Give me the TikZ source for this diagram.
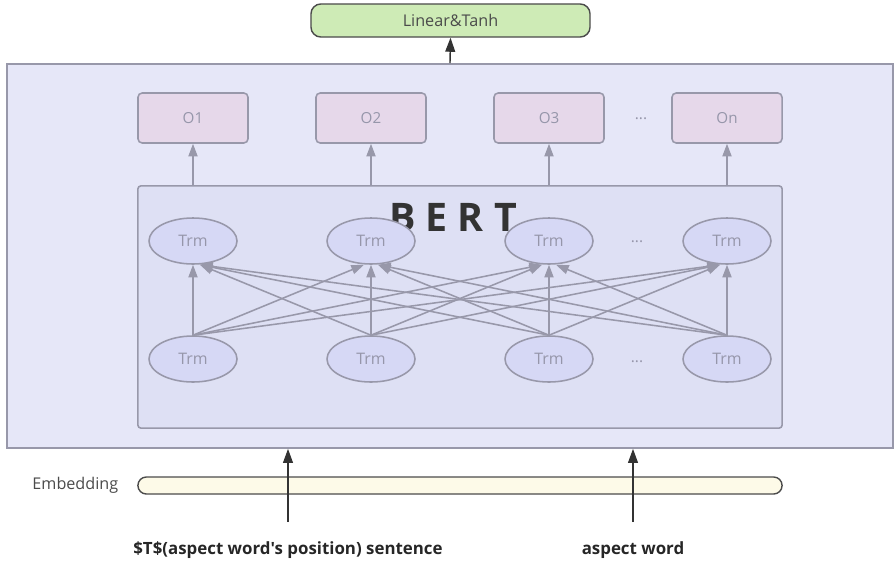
\documentclass[tikz,border=0pt]{standalone}
\usepackage{fontspec}
\setmainfont{Open Sans}
\newfontfamily\capfont{Open Sans}[Ligatures=TeXOff]
\usepackage{xcolor}
\usepackage{tikz}
\usetikzlibrary{arrows.meta,positioning,calc,shapes.geometric}
\definecolor{edgegray}{RGB}{152,152,170}
\definecolor{textgray}{RGB}{150,150,170}
\definecolor{panelbg}{RGB}{230,231,248}
\definecolor{bertbg}{RGB}{222,224,244}
\definecolor{outbg}{RGB}{230,216,234}
\definecolor{trmbg}{RGB}{214,216,245}
\definecolor{headbg}{RGB}{206,235,182}
\definecolor{embbg}{RGB}{253,250,232}
\definecolor{darkline}{RGB}{75,75,75}

\begin{document}
\begin{tikzpicture}[
    x=0.025cm, y=-0.025cm,
    panel/.style={draw=edgegray, fill=panelbg, line width=1.1pt, minimum width=22.15cm, minimum height=9.6cm},
    bertbox/.style={draw=edgegray, fill=bertbg, line width=1.1pt, rounded corners=2pt, minimum width=16.1cm, minimum height=6.05cm},
    outbox/.style={draw=edgegray, fill=outbg, line width=1.1pt, rounded corners=3pt, minimum width=2.75cm, minimum height=1.25cm, text=textgray, font=\fontsize{10.8}{12}\selectfont},
    trm/.style={ellipse, draw=edgegray, fill=trmbg, line width=1.1pt, minimum width=2.2cm, minimum height=1.15cm, text=textgray, font=\fontsize{11.3}{12}\selectfont},
    headbox/.style={draw=darkline, fill=headbg, line width=1pt, rounded corners=7pt, minimum width=6.975cm, minimum height=0.825cm, font=\fontsize{11.5}{13}\selectfont, text=darkline},
    embbar/.style={draw=darkline, fill=embbg, line width=1pt, rounded corners=6pt, minimum width=16.1cm, minimum height=0.425cm},
    dots/.style={text=textgray, font=\fontsize{11}{12}\selectfont},
    link/.style={-{Triangle[length=9pt,width=6.5pt]}, draw=edgegray, fill=edgegray, line width=1.1pt},
    feed/.style={-{Triangle[length=10pt,width=7pt]}, draw=black!80, fill=black!80, line width=1pt},
    caption/.style={font=\capfont\fontsize{12}{14}\selectfont\bfseries, text=black!85}
]
    \useasboundingbox (0,0) rectangle (894,566);

    % Outer panel and output head
    \node[panel] (outer) at (450,256) {};
    \node[headbox] (head) at (450.5,20.5) {Linear\&Tanh};
    \draw[feed] (outer.north) -- (head.south);

    % BERT block
    \node[bertbox] (bert) at (460,307) {};
    \node[font=\fontsize{28}{30}\selectfont\bfseries, text=black!80] (bertlabel) at (453,217) {B E R T};

    % Outputs, top and bottom Trm layers
    \foreach \i/\x/\name in {1/193/O1, 2/371/O2, 3/549/O3, 4/727/On} {
        \node[outbox] (o\i) at (\x,118) {\name};
        \node[trm] (t\i) at (\x,241) {Trm};
        \node[trm] (b\i) at (\x,359) {Trm};
        \draw[link] (bert.north -| o\i) -- (o\i.south);
    }
    \node[dots] (odots) at (641,119) {...};
    \node[dots] (tdots) at (637,242) {...};
    \node[dots] (bdots) at (637,362) {...};

    % Full connections between layers
    \foreach \i in {1,...,4} {
        \foreach \j in {1,...,4} {
            \pgfmathsetmacro{\dx}{sign(\i-\j)*7}
            \draw[link] (b\i.north) -- ($(t\j.south)+(\dx,0)$);
        }
    }

    % Embedding and inputs
    \node[embbar] (embed) at (460,485.5) {};
    \node[left=10pt of embed, font=\fontsize{11.5}{13}\selectfont, text=darkline] (embtext) {Embedding};
    \node[caption] (sent) at (288,550) {\$T\$(aspect word's position) sentence};
    \node[caption] (aspect) at (633,550) {aspect word};
    \coordinate (in1) at (288,522);
    \coordinate (in2) at (633,522);
    \draw[feed] (in1) -- (in1 |- outer.south);
    \draw[feed] (in2) -- (in2 |- outer.south);
\end{tikzpicture}
\end{document}
